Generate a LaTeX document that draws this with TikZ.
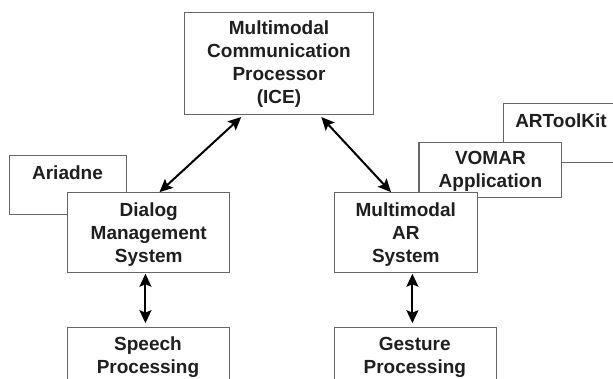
\documentclass[tikz,border=0pt]{standalone}
\usepackage{fontspec}
\setmainfont{Liberation Sans}
\usetikzlibrary{arrows.meta}
\begin{document}
\begin{tikzpicture}[x=1pt,y=-1pt,
  box/.style={draw=black!60,line width=1.1pt,fill=white,inner sep=0pt,align=center,
    font=\bfseries\fontsize{19}{23}\selectfont,text=black!88},
  txt/.style={inner sep=0pt,align=center,font=\bfseries\fontsize{19}{23}\selectfont,text=black!88},
  arr/.style={black,line width=2pt,{Stealth[length=13pt,width=12pt,inset=2.5pt]}-{Stealth[length=13pt,width=12pt,inset=2.5pt]}}]
\useasboundingbox (0,0) rectangle (613,379);
\clip (0,0) rectangle (613,379);
% ARToolKit (partly outside the picture)
\node[box,minimum width=120pt,minimum height=58.4pt,anchor=north west] (atk) at (503,103.3) {};
\node[txt] (atkt) at (561,121) {ARToolKit};
% Ariadne
\node[box,minimum width=117.7pt,minimum height=58.7pt,anchor=north west] (ari) at (8.6,155) {};
\node[txt] (arit) at (67.5,172.5) {Ariadne};
% ICE
\node[box,minimum width=188.8pt,minimum height=102pt] (ice) at (279,63.3) {};
\node[txt] (icet) at (279,64.5) {Multimodal\\Communication\\Processor\\(ICE)};
% VOMAR
\node[box,minimum width=142.8pt,minimum height=55pt] (vom) at (490.4,170.2) {};
\node[txt] (vomt) at (490.4,171.5) {VOMAR\\Application};
% Dialog
\node[box,minimum width=162.3pt,minimum height=80pt] (dlg) at (148.75,232.7) {};
\node[txt] (dlgt) at (148.75,234.5) {Dialog\\Management\\System};
% Multimodal AR
\node[box,minimum width=143pt,minimum height=80pt] (mar) at (405.8,232.7) {};
\node[txt] (mart) at (405.8,234.5) {Multimodal\\AR\\System};
% Speech
\node[box,minimum width=162.3pt,minimum height=80pt,anchor=north] (spc) at (148.75,326.7) {};
\node[txt] (spct) at (148,357) {Speech\\Processing};
% Gesture
\node[box,minimum width=162.6pt,minimum height=80pt,anchor=north] (ges) at (415.6,326.7) {};
\node[txt] (gest) at (414.8,357) {Gesture\\Processing};
% arrows
\draw[arr] ([xshift=-37.8pt,yshift=-2.2pt]ice.south) -- ([xshift=10.75pt]dlg.north);
\draw[arr] ([xshift=42.3pt,yshift=-2.2pt]ice.south) -- ([xshift=-14.8pt]mar.north);
\draw[arr] ([xshift=-3.3pt,yshift=-0.5pt]dlg.south) -- ([xshift=-3.3pt,yshift=3.5pt]spc.north);
\draw[arr] ([xshift=6.6pt,yshift=-0.5pt]mar.south) -- ([xshift=-3.2pt,yshift=3.5pt]ges.north);
\end{tikzpicture}
\end{document}
